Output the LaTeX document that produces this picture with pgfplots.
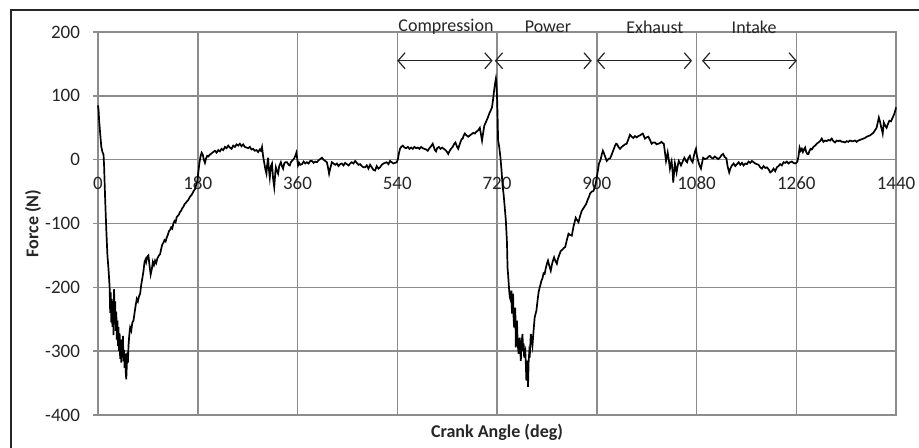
\documentclass[border=0pt]{standalone}
\usepackage{pgfplots}
\pgfplotsset{compat=1.18}
\usepackage{fontspec}
\setmainfont{Carlito}
\usetikzlibrary{arrows.meta}
\definecolor{gridgray}{RGB}{140,140,140}
\begin{document}
\begin{tikzpicture}
\useasboundingbox (0,0) rectangle (459.5pt,223.5pt);
\fill[white] (0,0) rectangle (459.5pt,223.5pt);
\draw[line width=1.1pt,black!85] (5.5pt,-5pt) -- (5.5pt,218.5pt) -- (465pt,218.5pt);
\begin{axis}[
  at={(49pt,16pt)}, anchor=south west,
  scale only axis, width=399pt, height=191.5pt,
  xmin=0, xmax=1440, ymin=-400, ymax=200,
  xtick={0,180,...,1440}, ytick={-400,-300,...,200},
  axis line style={gridgray, line width=0.75pt},
  grid=major, major grid style={gridgray, line width=0.75pt},
  xtick style={draw=none},
  ytick style={gridgray, line width=0.75pt},
  ytick pos=left,
  tick align=outside, major tick length=2.5pt,
  tick label style={font=\fontsize{9.5}{10}\selectfont, text=black!85},
  /pgf/number format/assume math mode=true,
  /pgf/number format/1000 sep={},
  xticklabel style={anchor=center, yshift=118.5pt},
  yticklabel style={anchor=east, xshift=-3pt},
  xlabel={Crank Angle (deg)}, ylabel={Force (N)},
  label style={font=\fontsize{9}{10}\selectfont\bfseries, text=black!85},
  xlabel style={at={(axis description cs:0.5,-0.0444)}, anchor=center},
  ylabel style={at={(axis description cs:-0.0815,0.5)}, anchor=center},
  clip=false,
]
\addplot[black, line width=0.85pt] coordinates {
(0,85)(1,78)(2,62)(4,40)(6,20)(8,12)(10,8)(11,-10)(13,-64)(15,-110)(17,-150)(19,-172)(21,-200)
(22,-240)(23,-208)(24,-255)(25,-218)(26,-262)(27,-225)(28,-275)(29,-203)(30,-248)(31,-222)(32,-268)
(33,-238)(34,-282)(35,-252)(36,-292)(37,-262)(38,-300)(39,-272)(40,-312)(41,-288)(42,-318)(43,-282)
(44,-305)(45,-276)(46,-316)(47,-298)(48,-326)(49,-304)(50,-332)(51,-344)(52,-322)(53,-302)(54,-318)
(55,-292)(56,-280)(57,-270)(58,-263)(60,-268)(62,-255)(64,-252)(66,-240)(68,-228)(70,-218)(72,-222)
(74,-214)(76,-210)(78,-196)(80,-186)(82,-175)(84,-160)(86,-156)(87,-160)(89,-152)(91,-150)(93,-166)
(95,-180)(97,-172)(99,-160)(101,-165)(103,-158)(105,-162)(107,-155)(110,-150)(112,-148)(114,-140)
(116,-133)(118,-130)(120,-126)(122,-128)(124,-122)(126,-118)(128,-112)(130,-110)(132,-106)(134,-108)
(136,-100)(138,-96)(140,-98)(142,-90)(144,-88)(146,-86)(148,-82)(150,-80)(152,-76)(154,-74)(156,-70)
(158,-68)(160,-66)(163,-63)(166,-58)(169,-55)(172,-50)(175,-46)(177,-40)(179,-35)(181,-20)(183,-5)
(185,5)(187,11)(189,8)(191,0)(193,-5)(195,2)(197,6)(199,5)(202,8)(205,10)(208,12)(211,14)(214,11)
(217,15)(220,13)(223,17)(226,15)(229,20)(232,18)(235,22)(238,19)(241,17)(244,22)(247,20)(250,24)
(253,22)(256,25)(259,21)(262,24)(265,20)(268,19)(271,18)(274,20)(277,16)(280,17)(283,14)(286,15)
(289,12)(292,16)(294,14)(296,20)(298,5)(300,-5)(302,-15)(304,-22)(305,-10)(307,3)(308,-12)(310,-28)
(312,-10)(314,-6)(316,-30)(318,-43)(320,-20)(321,-12)(323,-18)(325,-22)(327,-10)(330,-4)(332,-10)
(334,-14)(336,-6)(338,-4)(341,-4)(344,-8)(346,-9)(348,-4)(350,-2)(352,0)(354,2)(356,6)(358,11)
(360,-2)(361,-9)(363,-5)(365,-8)(368,-7)(371,-3)(374,-6)(377,-4)(380,-6)(383,-2)(386,-2)(389,-5)
(392,-3)(395,-4)(398,-1)(401,1)(404,3)(407,0)(410,-2)(413,-4)(415,-12)(417,-22)(419,-14)(422,-4)
(425,-6)(428,-8)(431,-6)(434,-10)(437,-7)(440,-6)(443,-9)(446,-5)(449,-7)(452,-9)(455,-6)(458,-4)
(461,-6)(464,-2)(467,-5)(470,-8)(473,-7)(476,-10)(479,-12)(482,-12)(485,-9)(488,-14)(491,-8)
(494,-12)(497,-16)(500,-17)(503,-10)(506,-14)(509,-12)(512,-8)(515,-6)(518,-5)(521,-4)(524,-7)
(527,-2)(530,-4)(533,-6)(536,-5)(539,-4)(541,0)(543,10)(545,17)(547,20)(550,22)(553,19)(556,18)
(559,20)(562,17)(565,19)(568,17)(571,20)(574,18)(577,19)(580,17)(583,20)(586,18)(589,17)(592,16)
(595,14)(598,18)(601,21)(604,25)(606,20)(608,15)(610,13)(612,18)(615,20)(618,17)(621,19)(624,17)
(627,15)(630,12)(632,9)(634,13)(637,17)(640,20)(643,25)(645,27)(648,20)(650,17)(653,25)(656,32)
(658,33)(660,38)(662,41)(665,38)(668,36)(671,38)(674,40)(677,42)(680,41)(683,44)(686,46)(689,50)
(691,40)(693,30)(695,42)(697,53)(699,57)(701,61)(703,65)(706,72)(708,76)(711,82)(713,95)(715,110)
(717,122)(718,127)(719,120)(720,100)(721,70)(722,30)(724,20)(726,5)(727,-5)(728,-15)(730,-40)
(732,-55)(734,-75)(736,-96)(738,-130)(739,-169)(740,-180)(742,-205)(743,-215)(745,-221)(746,-205)
(747,-241)(748,-225)(749,-210)(750,-250)(751,-263)(752,-240)(753,-232)(754,-294)(755,-270)(756,-252)
(757,-280)(758,-295)(759,-304)(760,-285)(761,-279)(762,-300)(763,-315)(764,-290)(766,-273)(767,-300)
(768,-288)(769,-310)(770,-302)(771,-299)(772,-320)(773,-346)(774,-315)(775,-325)(776,-356)(777,-318)
(778,-304)(779,-310)(781,-273)(783,-285)(784,-291)(786,-268)(788,-247)(790,-240)(791,-237)(793,-222)
(795,-208)(797,-200)(799,-194)(800,-190)(802,-186)(804,-178)(806,-179)(808,-170)(810,-163)(812,-158)
(814,-165)(817,-174)(819,-165)(821,-158)(823,-153)(825,-158)(828,-163)(830,-155)(832,-150)(835,-143)
(838,-141)(841,-138)(843,-137)(846,-126)(849,-116)(852,-118)(855,-119)(858,-105)(860,-98)(862,-91)
(864,-94)(867,-98)(870,-88)(873,-80)(876,-76)(879,-72)(881,-69)(884,-62)(886,-58)(888,-53)(891,-50)
(894,-49)(896,-44)(898,-38)(900,-28)(902,-17)(904,-6)(907,0)(909,8)(911,14)(913,10)(915,5)(918,-2)
(921,1)(924,2)(927,8)(930,15)(933,22)(935,25)(937,24)(939,20)(942,17)(945,20)(948,22)(951,24)
(954,25)(957,32)(960,39)(963,36)(966,34)(969,37)(972,35)(975,37)(978,38)(981,40)(983,41)(985,37)
(987,33)(990,35)(993,36)(996,31)(999,25)(1002,27)(1005,27)(1008,24)(1011,25)(1014,26)(1017,28)
(1019,26)(1021,25)(1023,12)(1025,-2)(1027,6)(1028,11)(1030,0)(1032,-14)(1034,-5)(1035,-2)(1037,-20)
(1038,-36)(1040,-15)(1041,-6)(1043,-15)(1044,-20)(1046,-10)(1048,-2)(1050,-5)(1052,-9)(1055,-3)
(1058,3)(1061,-2)(1063,-4)(1065,2)(1068,6)(1070,0)(1073,-4)(1075,5)(1077,12)(1079,17)(1081,5)
(1083,-2)(1085,-8)(1088,-14)(1090,-5)(1092,3)(1095,1)(1099,2)(1102,5)(1104,6)(1107,3)(1110,2)
(1113,5)(1116,3)(1119,1)(1122,3)(1125,7)(1128,9)(1131,4)(1134,2)(1136,-10)(1139,-20)(1141,-14)
(1144,-9)(1147,-6)(1150,-10)(1153,-7)(1156,-4)(1159,-8)(1162,-5)(1165,-9)(1168,-6)(1171,-7)(1174,-3)
(1177,-5)(1180,-2)(1183,-4)(1186,-6)(1189,-7)(1192,-8)(1195,-12)(1198,-14)(1201,-10)(1204,-13)
(1207,-12)(1210,-15)(1213,-20)(1216,-18)(1219,-14)(1222,-18)(1225,-12)(1228,-10)(1231,-7)(1234,-9)
(1237,-4)(1240,-5)(1243,-3)(1246,-6)(1249,-4)(1252,-3)(1255,-5)(1258,-6)(1260,-5)(1262,-3)(1264,5)
(1266,19)(1268,14)(1270,17)(1272,12)(1274,16)(1276,19)(1278,12)(1280,9)(1282,9)(1284,14)(1286,17)
(1288,16)(1291,20)(1294,22)(1297,25)(1300,27)(1303,29)(1306,33)(1309,28)(1312,30)(1315,29)(1318,31)
(1321,30)(1324,33)(1327,29)(1330,27)(1333,30)(1336,29)(1339,30)(1342,28)(1345,28)(1348,27)(1351,29)
(1354,28)(1357,30)(1360,29)(1363,29)(1366,30)(1369,28)(1372,30)(1375,31)(1378,32)(1381,33)(1384,34)
(1387,36)(1390,37)(1393,38)(1396,40)(1399,42)(1402,46)(1405,50)(1407,58)(1409,66)(1411,60)(1413,52)
(1415,45)(1416,41)(1418,58)(1420,54)(1423,50)(1425,55)(1428,61)(1431,60)(1433,64)(1435,68)(1437,72)
(1439,78)(1440,82)
};
\draw[{Straight Barb[length=3.5pt,width=8pt]}-{Straight Barb[length=3.5pt,width=8pt]}, line width=0.6pt, black!85] (axis cs:540,155) -- (axis cs:712,155);
\draw[{Straight Barb[length=3.5pt,width=8pt]}-{Straight Barb[length=3.5pt,width=8pt]}, line width=0.6pt, black!85] (axis cs:716,155) -- (axis cs:891,155);
\draw[{Straight Barb[length=3.5pt,width=8pt]}-{Straight Barb[length=3.5pt,width=8pt]}, line width=0.6pt, black!85] (axis cs:900,155) -- (axis cs:1072,155);
\draw[{Straight Barb[length=3.5pt,width=8pt]}-{Straight Barb[length=3.5pt,width=8pt]}, line width=0.6pt, black!85] (axis cs:1090,155) -- (axis cs:1261,155);
\node[font=\fontsize{9}{10}\selectfont, text=black!85] at (axis cs:628,208) {Compression};
\node[font=\fontsize{9}{10}\selectfont, text=black!85] at (axis cs:812,208) {Power};
\node[font=\fontsize{9}{10}\selectfont, text=black!85] at (axis cs:1005,208) {Exhaust};
\node[font=\fontsize{9}{10}\selectfont, text=black!85] at (axis cs:1184,208) {Intake};
\end{axis}
\end{tikzpicture}
\end{document}
